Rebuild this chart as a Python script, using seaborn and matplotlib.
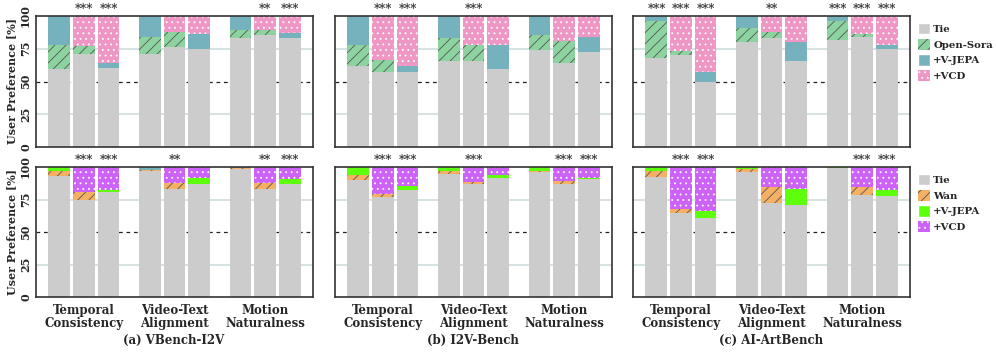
import numpy as np
import pandas as pd
import matplotlib.pyplot as plt
import seaborn as sns
from matplotlib.patches import Patch

sns.set_style("white")
plt.rcParams["font.family"] = ["DejaVu Serif"]
plt.rcParams["font.weight"] = "bold"
plt.rcParams["hatch.linewidth"] = 0.6

# ---------------------------------------------------------
# Data (percent). Per panel: 3 metrics x 3 pairs, flattened.
# pairs: base vs +V-JEPA, base vs +VCD, +V-JEPA vs +VCD
# tie = share of ties, first = share of first method, rest = second method
# ---------------------------------------------------------
metrics = ["Temporal\nConsistency", "Video-Text\nAlignment", "Motion\nNaturalness"]
pairs = ["p1", "p2", "p3"]
titles = ["(a) VBench-I2V", "(b) I2V-Bench", "(c) AI-ArtBench"]

# Open-Sora row
os_vbench_tie = [59.4, 70.9, 60.2, 70.9, 76.5, 74.5, 82.9, 85.2, 82.9]
os_vbench_first = [18.4, 5.9, 4.3, 13.0, 11.0, 11.5, 6.6, 4.3, 4.3]
os_vbench_stars = ["", "***", "***", "", "", "", "", "**", "***"]

os_i2v_tie = [61.7, 57.4, 57.4, 65.8, 65.8, 59.4, 73.7, 64.3, 72.4]
os_i2v_first = [16.3, 8.9, 4.8, 17.4, 12.3, 18.7, 12.0, 16.6, 11.3]
os_i2v_stars = ["", "***", "***", "", "***", "", "", "", ""]

os_art_tie = [68.1, 70.2, 49.7, 80.1, 82.9, 65.3, 81.4, 83.7, 74.5]
os_art_first = [28.3, 2.8, 7.7, 10.7, 4.9, 14.8, 15.0, 2.8, 3.3]
os_art_stars = ["***", "***", "***", "", "**", "", "***", "***", "***"]

# Wan row
wan_vbench_tie = [93.1, 74.6, 80.8, 96.9, 83.1, 86.9, 98.5, 83.1, 87.2]
wan_vbench_first = [3.6, 6.2, 1.5, 0.8, 4.8, 4.9, 0.7, 4.8, 3.6]
wan_vbench_stars = ["", "***", "***", "", "**", "", "", "**", "***"]
wan_vbench_teal = [1, 2]  # metrics where the original draws +V-JEPA in teal

wan_i2v_tie = [90.3, 76.7, 82.3, 94.4, 86.9, 91.8, 96.4, 86.7, 90.5]
wan_i2v_first = [3.8, 2.5, 2.8, 2.3, 1.3, 2.3, 0.5, 2.3, 1.3]
wan_i2v_stars = ["", "***", "***", "", "***", "", "", "***", "***"]

wan_art_tie = [92.6, 64.6, 61.0, 96.2, 72.3, 70.5, 99.2, 78.7, 77.4]
wan_art_first = [4.3, 3.3, 5.2, 2.0, 12.3, 12.6, 0.0, 5.7, 4.9]
wan_art_stars = ["", "***", "***", "", "", "", "", "***", "***"]

# colours
c_tie = "#cccccc"
c_os = "#8dd3a0"
c_teal = "#76b1be"
c_pink = "#ee96c4"
c_wan = "#f6b064"
c_green = "#5eff0c"
c_purple = "#cc62f7"

rows = [
    dict(base=c_os, vjepa=c_teal, vcd=c_pink, name="Open-Sora",
         panels=[(os_vbench_tie, os_vbench_first, os_vbench_stars, []),
                 (os_i2v_tie, os_i2v_first, os_i2v_stars, []),
                 (os_art_tie, os_art_first, os_art_stars, [])]),
    dict(base=c_wan, vjepa=c_green, vcd=c_purple, name="Wan",
         panels=[(wan_vbench_tie, wan_vbench_first, wan_vbench_stars, wan_vbench_teal),
                 (wan_i2v_tie, wan_i2v_first, wan_i2v_stars, []),
                 (wan_art_tie, wan_art_first, wan_art_stars, [])]),
]

SLASH = ("///", "#555555")
DOTS = ("...", "white")

fig = plt.figure(figsize=(9.96, 3.55), dpi=100)
lefts = [36, 335, 633]
row_y = [(16, 147), (167, 297)]


def draw_panel(ax, tie, first, stars, teal_fix, row):
    df = pd.DataFrame({
        "metric": np.repeat(metrics, 3),
        "pair": pairs * 3,
        "tie": tie,
        "first": first,
    })
    df["mid"] = df["tie"] + df["first"]
    df["total"] = 100.0
    layers = [
        ("total", [row["vjepa"], row["vcd"], row["vcd"]], [None, DOTS, DOTS]),
        ("mid", [row["base"], row["base"], row["vjepa"]], [SLASH, SLASH, None]),
        ("tie", [c_tie, c_tie, c_tie], [None, None, None]),
    ]
    for col, cols, hatches in layers:
        n0 = len(ax.containers)
        sns.barplot(data=df, x="metric", y=col, hue="pair", order=metrics,
                    hue_order=pairs, palette=dict(zip(pairs, cols)),
                    width=0.813, gap=0.107, saturation=1, errorbar=None,
                    linewidth=0, legend=False, ax=ax)
        new = ax.containers[n0:]
        for k, cont in enumerate(new):
            for p in cont:
                p.set_linewidth(0)
                if hatches[k]:
                    p.set_hatch(hatches[k][0])
                    p.set_edgecolor(hatches[k][1])
        if col == "total":
            for j in teal_fix:
                new[0][j].set_facecolor(c_teal)
    # star annotations
    for k, cont in enumerate(ax.containers[-3:]):
        for j, p in enumerate(cont):
            s = stars[j * 3 + k]
            if s:
                ax.text(p.get_x() + p.get_width() / 2, 100.0, s, ha="center",
                        va="bottom", fontsize=8.5, color="#333333",
                        fontweight="bold", clip_on=False)
    ax.axhline(25, color="#d0dede", lw=1.2, zorder=0.5)
    ax.axhline(75, color="#d0dede", lw=1.2, zorder=0.5)
    ax.axhline(50, color="#222222", lw=0.9, ls=(0, (3, 3)), zorder=0.5)
    ax.set_ylim(0, 100)
    ax.set_xlim(-0.53, 2.53)
    ax.set_xlabel("")
    ax.set_ylabel("")
    for sp in ax.spines.values():
        sp.set_color("#333333")
        sp.set_linewidth(1.2)
    ax.tick_params(length=0)


for r, row in enumerate(rows):
    y0, y1 = row_y[r]
    for c, (tie, first, stars, teal_fix) in enumerate(row["panels"]):
        ax = fig.add_axes([lefts[c] / 996, 1 - y1 / 355, 277 / 996, (y1 - y0) / 355])
        draw_panel(ax, tie, first, stars, teal_fix, row)
        ax.set_yticks([0, 25, 50, 75, 100])
        if c == 0:
            ax.set_yticklabels(["0", "25", "50", "75", "100"], rotation=90,
                               va="center", fontsize=8, fontweight="bold")
            ax.set_ylabel("User Preference [%]", fontsize=8, fontweight="bold",
                          labelpad=2)
        else:
            ax.set_yticklabels([])
        if r == 1:
            ax.set_xticks([0, 1, 2])
            ax.set_xticklabels(metrics, fontsize=8.5, fontweight="bold",
                               linespacing=1.0)
            ax.tick_params(axis="x", pad=5)
            fig.text((lefts[c] + 138) / 996, 1 - 340 / 355, titles[c],
                     ha="center", va="center", fontsize=8.5, fontweight="bold")
        else:
            ax.set_xticklabels([])

    handles = [
        Patch(facecolor=c_tie, label="Tie"),
        Patch(facecolor=row["base"], edgecolor=SLASH[1], hatch=SLASH[0],
              linewidth=0, label=row["name"]),
        Patch(facecolor=row["vjepa"], label="+V-JEPA"),
        Patch(facecolor=row["vcd"], edgecolor=DOTS[1], hatch=DOTS[0],
              linewidth=0, label="+VCD"),
    ]
    fig.legend(handles=handles, loc="upper left",
               bbox_to_anchor=(914 / 996, 1 - (y0 + 3) / 355), frameon=False,
               prop={"weight": "bold", "size": 7.3}, handlelength=1.2,
               handleheight=1.35, handletextpad=0.3, labelspacing=0.42,
               borderaxespad=0)

fig.savefig("out.png", dpi=100)
